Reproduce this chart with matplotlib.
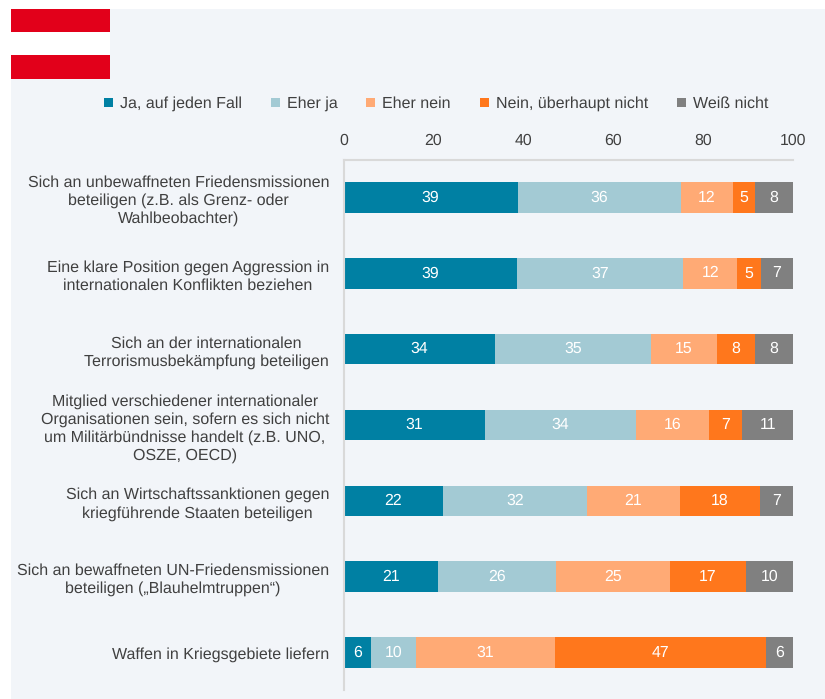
import matplotlib
matplotlib.use("Agg")
import matplotlib.pyplot as plt
from matplotlib.patches import Rectangle

plt.rcParams['font.family'] = ['Liberation Sans', 'DejaVu Sans']
plt.rcParams['text.hinting'] = 'no_hinting'

categories = [
    "Sich an unbewaffneten Friedensmissionen\nbeteiligen (z.B. als Grenz- oder\nWahlbeobachter)",
    "Eine klare Position gegen Aggression in\ninternationalen Konflikten beziehen",
    "Sich an der internationalen\nTerrorismusbekämpfung beteiligen",
    "Mitglied verschiedener internationaler\nOrganisationen sein, sofern es sich nicht\num Militärbündnisse handelt (z.B. UNO,\nOSZE, OECD)",
    "Sich an Wirtschaftssanktionen gegen\nkriegführende Staaten beteiligen",
    "Sich an bewaffneten UN-Friedensmissionen\nbeteiligen („Blauhelmtruppen“)",
    "Waffen in Kriegsgebiete liefern",
]
series_names = ["Ja, auf jeden Fall", "Eher ja", "Eher nein", "Nein, überhaupt nicht", "Weiß nicht"]
ja = [38.8, 38.6, 33.7, 31.4, 22.1, 21.0, 6.1]
eher_ja = [36.3, 37.0, 34.6, 33.7, 32.0, 26.3, 10.0]
eher_nein = [11.5, 12.0, 14.8, 16.2, 20.7, 25.3, 30.9]
nein = [5.0, 5.3, 8.45, 7.4, 17.8, 16.9, 46.9]
weiss = [8.4, 7.1, 8.45, 11.3, 7.4, 10.4, 6.1]
ticks = [0, 20, 40, 60, 80, 100]

colors = ["#0080A3", "#A3CAD4", "#FFAA75", "#FF771C", "#808080"]
W, H = 825, 699
BG = "#F2F5F9"
TXT = "#404040"
GRID = "#D9D9D9"

fig = plt.figure(figsize=(W / 100, H / 100), dpi=100, facecolor="white")
fig.add_artist(Rectangle((11 / W, 0), (W - 11) / W, (H - 9) / H, transform=fig.transFigure,
                         fc=BG, ec="none", zorder=-2))
for top, bottom, c in [(9, 32, "#E2001A"), (32, 55, "white"), (55, 79, "#E2001A")]:
    fig.add_artist(Rectangle((11 / W, 1 - bottom / H), 99 / W, (bottom - top) / H,
                             transform=fig.transFigure, fc=c, ec="none", zorder=-1))

x0, x1, y0, y1 = 343.5, 793, 159.6, 690.4
ax = fig.add_axes([x0 / W, 1 - y1 / H, (x1 - x0) / W, (y1 - y0) / H])
ax.patch.set_alpha(0)
n = len(categories)
ys = list(range(n))
left = [0.0] * n
for name, vals, c in zip(series_names, [ja, eher_ja, eher_nein, nein, weiss], colors):
    ax.barh(ys, vals, left=left, height=0.4, color=c, label=name)
    for y, v, l in zip(ys, vals, left):
        ax.text(l + v / 2, y, f"{round(v)}", ha="center", va="center", color="white", fontsize=11.4)
    left = [a + b for a, b in zip(left, vals)]

ax.set_xlim(0, 100)
ax.set_ylim(n - 0.5, -0.5)
ax.xaxis.tick_top()
ax.set_xticks(ticks)
ax.tick_params(axis="x", length=0, pad=8.5, labelsize=11.4, labelcolor=TXT)
ax.set_yticks(ys)
ax.set_yticklabels(categories, multialignment="center", ha="right", fontsize=11.55, color=TXT, linespacing=1.27)
ax.tick_params(axis="y", length=0, pad=10.4)
for s in ("right", "bottom"):
    ax.spines[s].set_visible(False)
for s in ("top", "left"):
    ax.spines[s].set_color(GRID)
    ax.spines[s].set_linewidth(1.5)

handles, labels = ax.get_legend_handles_labels()
fig.legend(handles, labels, ncol=5, loc="center left", bbox_to_anchor=(104 / W, 1 - 104 / H),
           frameon=False, fontsize=11.5, labelcolor=TXT, handlelength=0.56, handleheight=0.56,
           handletextpad=0.44, columnspacing=1.81, borderpad=0, borderaxespad=0)

fig.savefig("out.png", dpi=100, facecolor="white")
